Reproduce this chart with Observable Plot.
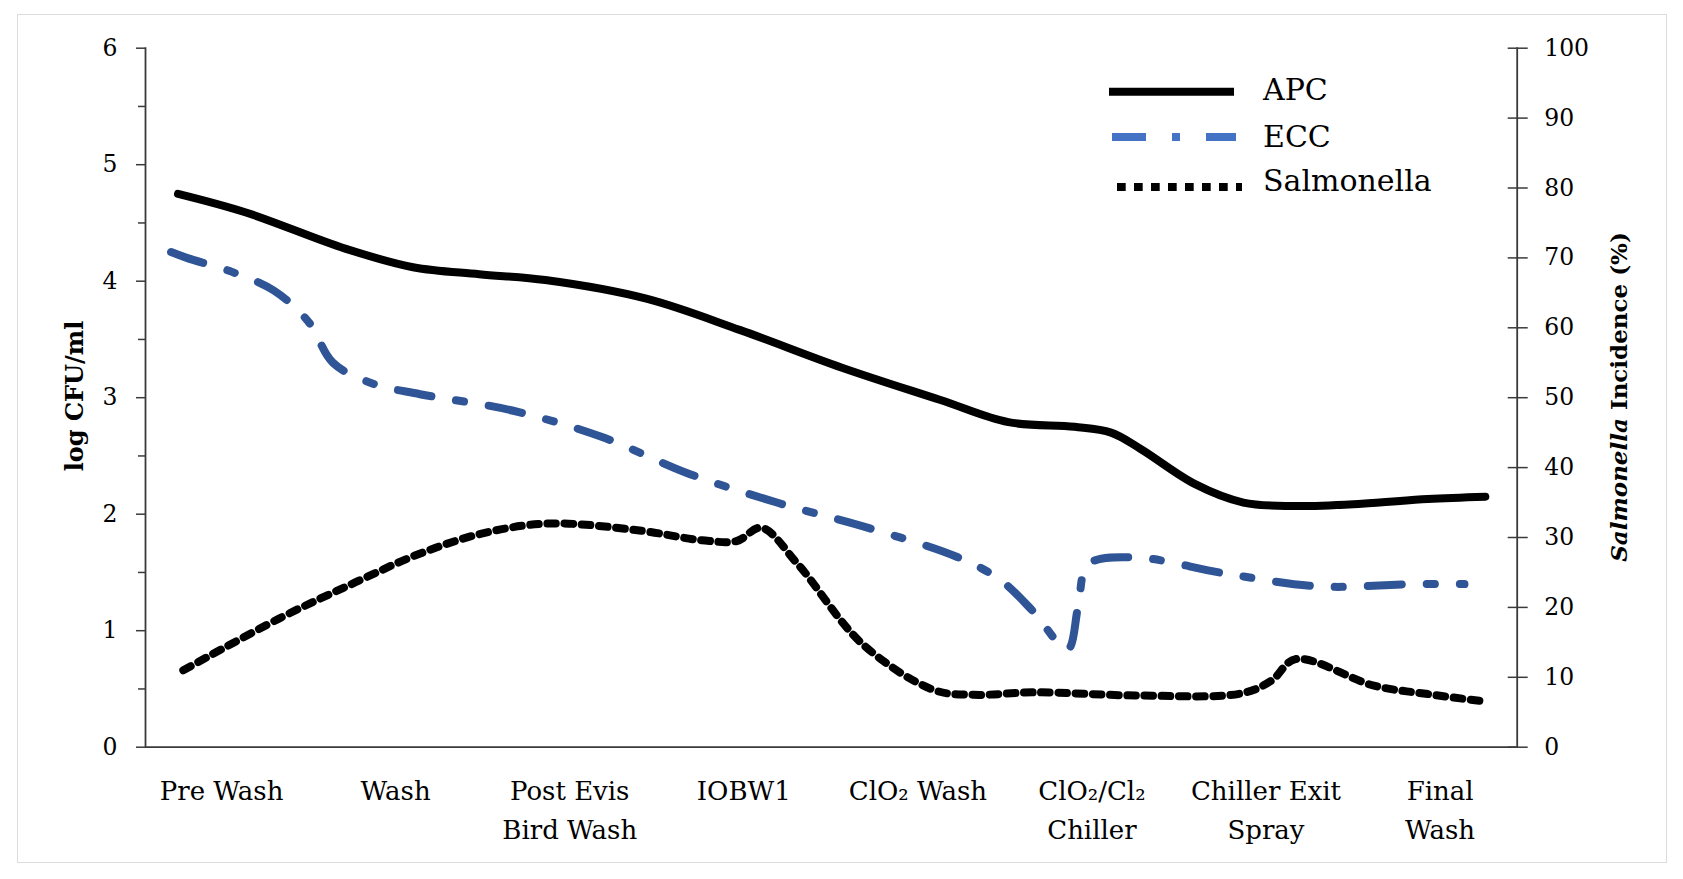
<!DOCTYPE html>
<html>
<head>
<meta charset="utf-8">
<script src="https://cdn.jsdelivr.net/npm/d3@7"></script>
<script src="https://cdn.jsdelivr.net/npm/@observablehq/plot@0.6"></script>
<style>
  html, body { margin: 0; padding: 0; background: #fff; }
  #wrap { position: relative; width: 1683px; height: 879px; overflow: hidden; }
  #border { position: absolute; left: 17px; top: 14px; width: 1648px; height: 847px; border: 1.5px solid #dcdcdc; }
  #chart { position: absolute; left: 0; top: 0; }
</style>
</head>
<body>
<div id="wrap"><div id="border"></div><div id="chart"></div></div>
<script>
// ---- data (stage positions: 0 = first stage label, 7 = last) ----
const stages = ["Pre Wash", "Wash", "Post Evis\nBird Wash", "IOBW1", "ClO₂ Wash", "ClO₂/Cl₂\nChiller", "Chiller Exit\nSpray", "Final\nWash"];

const apcPos = [-0.25, 0.14, 0.71, 1.10, 1.48, 1.86, 2.44, 2.98, 3.56, 4.13, 4.52, 4.90, 5.11, 5.28, 5.59, 5.87, 6.16, 6.55, 6.93, 7.26];
const apcVal = [4.75, 4.59, 4.28, 4.12, 4.06, 4.01, 3.85, 3.58, 3.26, 2.98, 2.79, 2.75, 2.70, 2.56, 2.26, 2.10, 2.07, 2.09, 2.13, 2.15];

const eccPos = [-0.29, -0.20, 0.06, 0.30, 0.50, 0.64, 0.87, 1.14, 1.67, 2.19, 2.68, 3.19, 3.72, 4.23, 4.47, 4.66, 4.86, 4.92, 4.98, 5.24, 5.77, 6.31, 6.85, 7.14];
const eccVal = [4.25, 4.20, 4.08, 3.92, 3.65, 3.30, 3.12, 3.03, 2.89, 2.66, 2.35, 2.10, 1.88, 1.63, 1.44, 1.17, 0.84, 1.20, 1.57, 1.63, 1.49, 1.38, 1.40, 1.40];

const salPos = [-0.22, 0.33, 0.77, 1.13, 1.50, 1.88, 2.40, 2.76, 2.96, 3.10, 3.31, 3.68, 4.09, 4.32, 4.67, 5.26, 5.86, 6.03, 6.17, 6.62, 6.93, 7.27];
const salPct = [11.0, 18.4, 23.6, 27.6, 30.6, 32.0, 31.0, 29.6, 29.5, 31.4, 26.2, 14.8, 8.2, 7.5, 7.85, 7.4, 7.7, 9.5, 12.6, 8.8, 7.6, 6.5];

const leftTicks = [0, 1, 2, 3, 4, 5, 6];
const leftMinor = [0.5, 1.5, 2.5, 3.5, 4.5, 5.5];
const pctTicks = [0, 10, 20, 30, 40, 50, 60, 70, 80, 90, 100];
const pctToLog = 6 / 100; // right axis (0–100 %) shares the left scale (0–6)

const apc = apcPos.map((p, i) => ({pos: p, val: apcVal[i]}));
const ecc = eccPos.map((p, i) => ({pos: p, val: eccVal[i]}));
const sal = salPos.map((p, i) => ({pos: p, val: salPct[i] * pctToLog}));

const font = "DejaVu Serif";
const axisColor = "#3a3a3a";

const plot = Plot.plot({
  width: 1683,
  height: 879,
  marginLeft: 145,
  marginRight: 166.3,
  marginTop: 47.7,
  marginBottom: 132.3,
  x: {domain: [-0.437, 7.443], axis: null},
  y: {domain: [0, 6], axis: null},
  style: {fontFamily: font, background: "transparent", color: "#000", overflow: "visible"},
  marks: [
    // left axis
    Plot.axisY({ticks: leftTicks, tickSize: 9, tickPadding: 19, fontSize: 23.5, tickFormat: d => String(d), label: null, stroke: axisColor, strokeWidth: 1.5, fill: "#000"}),
    Plot.axisY({ticks: leftMinor, tickSize: 7, tickFormat: () => "", label: null, stroke: axisColor, strokeWidth: 1.5}),
    // right axis (ticks crossing the axis line)
    Plot.axisY({anchor: "right", ticks: pctTicks.map(p => p * pctToLog), tickSize: 10, tickPadding: 17, fontSize: 23.5, tickFormat: v => String(Math.round(v / pctToLog)), label: null, stroke: axisColor, strokeWidth: 1.5, fill: "#000"}),
    Plot.axisY({anchor: "right", ticks: pctTicks.map(p => p * pctToLog), tickSize: 10, dx: -10, tickFormat: () => "", label: null, stroke: axisColor, strokeWidth: 1.5}),
    // category axis
    Plot.axisX({ticks: stages.map((_, i) => i), tickFormat: i => stages[i], tickSize: 0, tickPadding: 26, fontSize: 26, lineHeight: 1.47, label: null, fill: "#000"}),
    // axis lines
    Plot.frame({anchor: "left", stroke: axisColor, strokeWidth: 1.8}),
    Plot.frame({anchor: "right", stroke: axisColor, strokeWidth: 1.8}),
    Plot.ruleY([0], {stroke: axisColor, strokeWidth: 1.8}),
    // series
    Plot.line(apc, {x: "pos", y: "val", curve: "catmull-rom", stroke: "#000", strokeWidth: 8}),
    Plot.line(ecc, {x: "pos", y: "val", curve: "catmull-rom", stroke: "#2F5597", strokeWidth: 8, strokeDasharray: "34 25 8 25"}),
    Plot.line(sal, {x: "pos", y: "val", curve: "catmull-rom", stroke: "#000", strokeWidth: 8, strokeDasharray: "8.6 8.6"})
  ]
});

document.getElementById("chart").appendChild(plot);

// ---- titles and legend ----
const svg = d3.select(plot);
svg.append("text")
  .attr("transform", "translate(83,396) rotate(-90)")
  .attr("text-anchor", "middle")
  .attr("font-family", font).attr("font-weight", "bold").attr("font-size", 24)
  .attr("fill", "#000")
  .text("log CFU/ml");

const rt = svg.append("text")
  .attr("transform", "translate(1627,397) rotate(-90)")
  .attr("text-anchor", "middle")
  .attr("font-family", font).attr("font-weight", "bold").attr("font-size", 23)
  .attr("fill", "#000");
rt.append("tspan").attr("font-style", "italic").text("Salmonella");
rt.append("tspan").text(" Incidence (%)");

const legend = [
  {name: "APC", color: "#000", dash: null, x1: 1109, x2: 1234, y: 91.7, ty: 100},
  {name: "ECC", color: "#4472C4", dash: "34 26 8 26", x1: 1112, x2: 1236, y: 137, ty: 147},
  {name: "Salmonella", color: "#000", dash: "8.7 8.3", x1: 1117, x2: 1242, y: 187, ty: 191}
];
const lg = svg.append("g");
legend.forEach(d => {
  lg.append("line").attr("x1", d.x1).attr("x2", d.x2).attr("y1", d.y).attr("y2", d.y)
    .attr("stroke", d.color).attr("stroke-width", 8).attr("stroke-dasharray", d.dash);
  lg.append("text").attr("x", 1263).attr("y", d.ty)
    .attr("text-anchor", "start")
    .attr("font-family", font).attr("font-size", 30).attr("fill", "#000").text(d.name);
});
</script>
</body>
</html>
